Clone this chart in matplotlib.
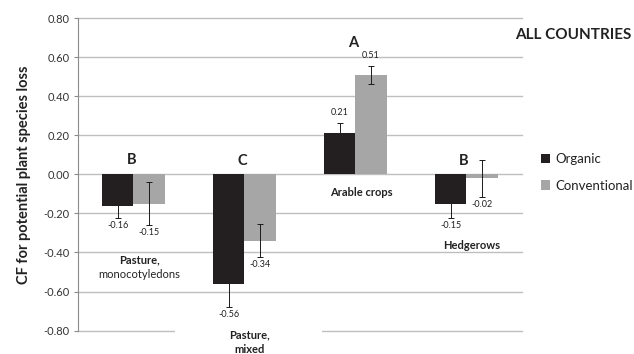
import matplotlib.pyplot as plt
import numpy as np
from matplotlib.patches import Rectangle

plt.rcParams["font.family"] = ["Lato", "DejaVu Sans"]

# data
groups = ["Pasture, monocotyledons", "Pasture, mixed", "Arable crops", "Hedgerows"]
organic = [-0.16, -0.56, 0.21, -0.15]
conventional = [-0.15, -0.34, 0.51, -0.02]
organic_err = [0.065, 0.12, 0.055, 0.075]
conventional_err = [0.11, 0.085, 0.045, 0.095]
letters = ["B", "C", "A", "B"]
yticks = np.round(np.arange(-0.8, 0.81, 0.2), 2)

# label placement (text only)
letter_y = [0.075, 0.07, 0.67, 0.07]
cat_lines = [
    [("Pasture,", "bold"), ("monocotyledons", "normal")],
    [("Pasture,", "bold"), ("mixed", "bold")],
    [("Arable crops", "bold")],
    [("Hedgerows", "bold")],
]
cat_y = [-0.44, -0.822, -0.095, -0.365]

COL_ORG = "#231f20"
COL_CONV = "#a6a6a6"
GRID = "#bfbfbf"

fig = plt.figure(figsize=(6.34, 3.54), dpi=100)
ax = fig.add_axes([0.123, 0.066, 0.700, 0.883])

x = np.arange(len(groups))
w = 0.284
ax.bar(x - w / 2, organic, w, color=COL_ORG, label="Organic", zorder=2)
ax.bar(x + w / 2, conventional, w, color=COL_CONV, label="Conventional", zorder=2)
# organic error bars sit behind the dark bars, conventional ones in front
ax.errorbar(x - w / 2, organic, yerr=organic_err, fmt="none", ecolor="#1a1a1a",
            elinewidth=0.7, capsize=2, capthick=0.7, zorder=1.8)
ax.errorbar(x + w / 2, conventional, yerr=conventional_err, fmt="none",
            ecolor="#1a1a1a", elinewidth=0.7, capsize=2, capthick=0.7, zorder=3)

# value labels at the error bar ends
for xs, vals, errs in [(x - w / 2, organic, organic_err),
                       (x + w / 2, conventional, conventional_err)]:
    for xi, v, e in zip(xs, vals, errs):
        if v >= 0:
            ax.annotate(f"{v:.2f}", (xi, v + e), xytext=(0, 4),
                        textcoords="offset points", ha="center", va="bottom",
                        fontsize=6.5, color="#222222", zorder=4)
        else:
            ax.annotate(f"{v:.2f}", (xi, v - e), xytext=(0, -2),
                        textcoords="offset points", ha="center", va="top",
                        fontsize=6.5, color="#222222", zorder=4)

for xi, ly, lt in zip(x, letter_y, letters):
    ax.text(xi - 0.02, ly, lt, ha="center", va="center", fontsize=10.5,
            weight="bold", color="#222222")

for xi, cy, lines in zip(x, cat_y, cat_lines):
    for k, (txt, wt) in enumerate(lines):
        ax.annotate(txt, (xi + 0.05, cy), xytext=(0, -10.5 * k),
                    textcoords="offset points", ha="center", va="center",
                    fontsize=8, weight=wt, color="#222222", zorder=5,
                    annotation_clip=False)

ax.set_xlim(-0.5, len(groups) - 0.5)
ax.set_ylim(-0.8, 0.8)
ax.set_yticks(yticks)
ax.set_yticklabels([f"{t + 0.0:.2f}" for t in yticks], fontsize=8,
                   color="#333333")
ax.set_xticks([])
for t in yticks:
    ax.axhline(t, color=GRID, lw=1, zorder=1, clip_on=False)
# white box behind the "Pasture, mixed" label
ax.add_patch(Rectangle((0.375, -0.86), 1.32, 0.12, facecolor="white",
                       edgecolor="none", zorder=1.5, clip_on=False))

for s in ["top", "right", "bottom"]:
    ax.spines[s].set_visible(False)
ax.spines["left"].set_color("#8c8c8c")
ax.tick_params(axis="y", length=3, color="#8c8c8c", pad=3)

ax.set_ylabel("CF for potential plant species loss", fontsize=10.5,
              weight="bold", color="#222222", labelpad=9)

fig.text(0.812, 0.90, "ALL COUNTRIES", fontsize=11, weight="bold",
         color="#222222", va="center")
fig.legend(loc="center left", bbox_to_anchor=(0.845, 0.513), frameon=False,
           fontsize=9.5, handlelength=0.7, handleheight=0.7, handletextpad=0.4,
           labelspacing=1.1, labelcolor="#222222", borderaxespad=0)

fig.savefig("out.png", dpi=100, facecolor="white")
